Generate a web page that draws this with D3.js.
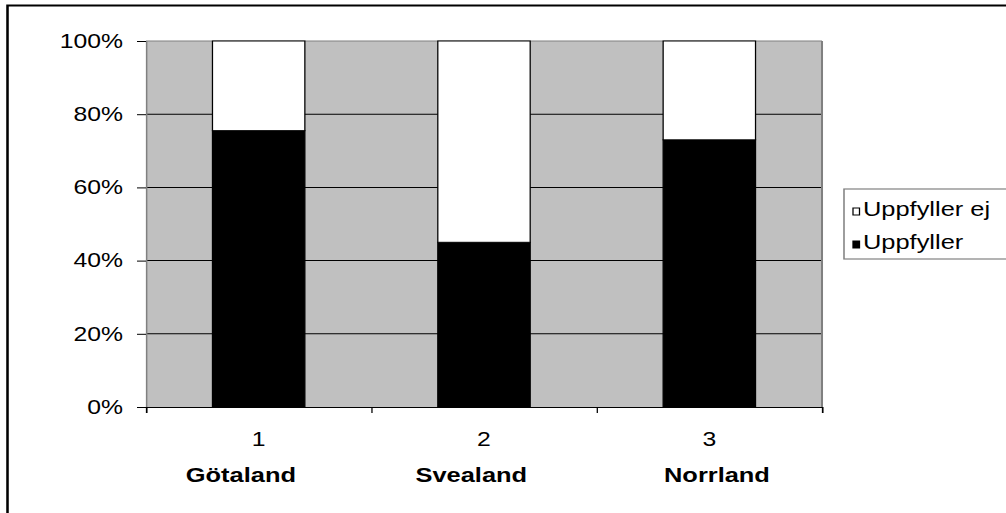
<!DOCTYPE html>
<html>
<head>
<meta charset="utf-8">
<script src="https://cdn.jsdelivr.net/npm/d3@7"></script>
<style>
  html, body { margin: 0; padding: 0; background: #fff; }
  svg { display: block; }
  text { font-family: "Liberation Sans", Arial, sans-serif; fill: #000; }
</style>
</head>
<body>
<div id="chart"></div>
<script>
// Share of units that meet the requirement, per region (stacked to 100%)
const categories = ["1", "2", "3"];
const regionNames = ["Götaland", "Svealand", "Norrland"];
const uppfyller = [0.755, 0.45, 0.73];
const uppfyllerEj = [0.245, 0.55, 0.27];
const seriesNames = ["Uppfyller ej", "Uppfyller"];
const seriesColors = ["#ffffff", "#000000"];
const yTicks = [0, 0.2, 0.4, 0.6, 0.8, 1];

// Layout (the whole drawing is widened horizontally by SX)
const SX = 1.27;
const PW = 1006, PH = 513;
const L = 146 / SX, R = 822 / SX, T = 41, B = 407;
const regionLabelShift = [-14, -10, 6];

const svg = d3.select("#chart").append("svg")
  .attr("width", PW).attr("height", PH);

const g = svg.append("g").attr("transform", `scale(${SX},1)`);

// Outer frame (runs past the right and bottom edges)
g.append("rect")
  .attr("x", 7.5 / SX).attr("y", 5.5)
  .attr("width", 1100).attr("height", 600)
  .attr("fill", "#fff").attr("stroke", "#000").attr("stroke-width", 2);

const x = d3.scaleBand().domain(categories).range([L, R])
  .paddingInner(0.59).paddingOuter(0.295);
const xEdges = d3.scaleLinear().domain([0, categories.length]).range([L, R]);
const y = d3.scaleLinear().domain([0, 1]).range([B, T]);

// Plot background
g.append("rect")
  .attr("x", L).attr("y", T).attr("width", R - L).attr("height", B - T)
  .attr("fill", "#c0c0c0");

// Gridlines
g.append("g").selectAll("line")
  .data(yTicks.filter(d => d > 0 && d < 1))
  .join("line")
  .attr("x1", L).attr("x2", R)
  .attr("y1", d => y(d)).attr("y2", d => y(d))
  .attr("stroke", "#000").attr("stroke-width", 1);

// Plot border top and right
g.append("line").attr("x1", L).attr("x2", R).attr("y1", T).attr("y2", T)
  .attr("stroke", "#808080").attr("stroke-width", 1);
g.append("line").attr("x1", R).attr("x2", R).attr("y1", T).attr("y2", B)
  .attr("stroke", "#808080").attr("stroke-width", 1.6);

// Stacked bars
const rows = categories.map((c, i) => ({ cat: c, "Uppfyller": uppfyller[i], "Uppfyller ej": uppfyllerEj[i] }));
const stack = d3.stack().keys(["Uppfyller", "Uppfyller ej"]);
const layers = stack(rows);
g.append("g").selectAll("g")
  .data(layers)
  .join("g")
  .attr("fill", d => seriesColors[seriesNames.indexOf(d.key)])
  .selectAll("rect")
  .data(d => d)
  .join("rect")
  .attr("x", d => x(d.data.cat))
  .attr("width", x.bandwidth())
  .attr("y", d => y(d[1]))
  .attr("height", d => y(d[0]) - y(d[1]))
  .attr("stroke", "#000").attr("stroke-width", 1);

// Y axis
const yAxis = g.append("g").attr("transform", `translate(${L},0)`)
  .call(d3.axisLeft(y).tickValues(yTicks).tickFormat(d3.format(".0%"))
    .tickSize(9 / SX).tickPadding(11));
yAxis.select(".domain").attr("stroke", "#808080").attr("stroke-width", 1.2);
yAxis.selectAll(".tick line").attr("stroke", "#000");
yAxis.selectAll("text").attr("font-size", 19.5).attr("font-family", "Liberation Sans, Arial, sans-serif");

// X axis with ticks at category boundaries
const xAxis = g.append("g").attr("transform", `translate(0,${B})`)
  .call(d3.axisBottom(xEdges).ticks(categories.length).tickFormat("").tickSize(6).tickSizeOuter(6));
xAxis.select(".domain").attr("stroke", "#000").attr("stroke-width", 1.2);
xAxis.selectAll(".tick line").attr("stroke", "#000");

// Category numbers
g.append("g").selectAll("text")
  .data(categories)
  .join("text")
  .attr("x", d => x(d) + x.bandwidth() / 2)
  .attr("y", 446)
  .attr("text-anchor", "middle")
  .attr("font-size", 19.5)
  .text(d => d);

// Region names
g.append("g").selectAll("text")
  .data(regionNames)
  .join("text")
  .attr("x", (d, i) => x(categories[i]) + x.bandwidth() / 2 + regionLabelShift[i])
  .attr("y", 482)
  .attr("text-anchor", "middle")
  .attr("font-size", 20)
  .attr("font-weight", "bold")
  .text(d => d);

// Legend
const lg = g.append("g");
lg.append("rect")
  .attr("x", 844 / SX).attr("y", 189)
  .attr("width", 200).attr("height", 70)
  .attr("fill", "#fff").attr("stroke", "#808080").attr("stroke-width", 1.2);
const items = lg.selectAll("g.item")
  .data(seriesNames)
  .join("g").attr("class", "item")
  .attr("transform", (d, i) => `translate(${853 / SX},${208 + i * 33})`);
items.append("rect")
  .attr("x", 0).attr("y", 0).attr("width", 6.5 / SX).attr("height", 7)
  .attr("fill", (d, i) => seriesColors[i])
  .attr("stroke", "#000").attr("stroke-width", 1);
items.append("text")
  .attr("x", 10 / SX).attr("y", 7.5)
  .attr("font-size", 20)
  .text(d => d);
</script>
</body>
</html>
